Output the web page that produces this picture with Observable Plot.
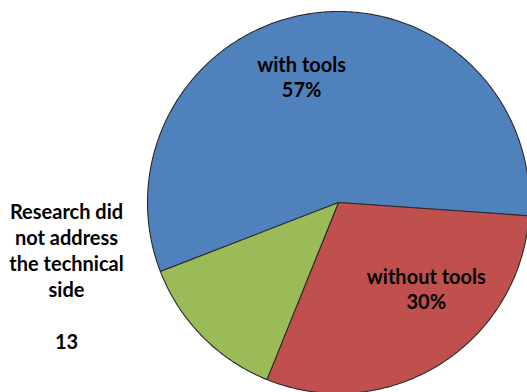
<!DOCTYPE html>
<html>
<head>
<meta charset="utf-8">
<script src="https://cdn.jsdelivr.net/npm/d3@7"></script>
<script src="https://cdn.jsdelivr.net/npm/@observablehq/plot@0.6"></script>
<style>
  html, body { margin: 0; padding: 0; background: #fff; }
  #chart { width: 527px; height: 392px; overflow: hidden; }
</style>
</head>
<body>
<div id="chart"></div>
<script>
// ---- data ----
const categories = ["with tools", "without tools", "Research did\nnot address\nthe technical\nside"];
const values = [57, 30, 13];
const valueLabels = ["57%", "30%", "13"];
const colors = ["#4F81BD", "#C0504D", "#9BBB59"];

// ---- pie layout ----
const start = -111.2 * Math.PI / 180;
const pie = d3.pie().sort(null).value(d => d.value).startAngle(start).endAngle(start + 2 * Math.PI);
const slices = pie(categories.map((c, i) => ({name: c, value: values[i], label: valueLabels[i]})));

const pts = [];
slices.forEach(s => {
  const n = Math.max(2, Math.ceil((s.endAngle - s.startAngle) / 0.01));
  pts.push({name: s.data.name, x: 0, y: 0});
  for (let k = 0; k <= n; k++) {
    const a = s.startAngle + (s.endAngle - s.startAngle) * k / n;
    pts.push({name: s.data.name, x: Math.sin(a), y: Math.cos(a)});
  }
});

const labels = slices.map(s => {
  const m = (s.startAngle + s.endAngle) / 2;
  return {name: s.data.name, text: s.data.name + "\n" + s.data.label, x: 0.66 * Math.sin(m), y: 0.66 * Math.cos(m), idx: s.index};
});

const font = "Lato, 'Open Sans', sans-serif";
const chart = Plot.plot({
  width: 527,
  height: 392,
  margin: 0,
  x: {domain: [-1, 1], range: [147, 529], axis: null},
  y: {domain: [-1, 1], range: [393, 11], axis: null},
  color: {domain: categories, range: colors},
  style: {fontFamily: font, background: "#fff"},
  marks: [
    Plot.line(pts, {x: "x", y: "y", z: "name", fill: "name", stroke: "#2b2b2b", strokeWidth: 1.1, curve: "linear-closed", strokeLinejoin: "round"}),
    Plot.text(labels.filter(d => d.idx === 0), {x: "x", y: "y", text: "text", dx: -18, dy: -1, fontSize: 20, fontWeight: "bold", fill: "#000", lineHeight: 1.25}),
    Plot.text(labels.filter(d => d.idx === 1), {x: "x", y: "y", text: "text", dx: 21, dy: -21, fontSize: 20, fontWeight: "bold", fill: "#000", lineHeight: 1.25}),
    Plot.text(labels.filter(d => d.idx === 2), {text: d => d.name + "\n\n" + values[2], frameAnchor: "left", dx: 66, dy: 79, textAnchor: "middle", fontSize: 20, fontWeight: "bold", fill: "#000", lineHeight: 1.3})
  ]
});
document.getElementById("chart").appendChild(chart);
</script>
</body>
</html>
